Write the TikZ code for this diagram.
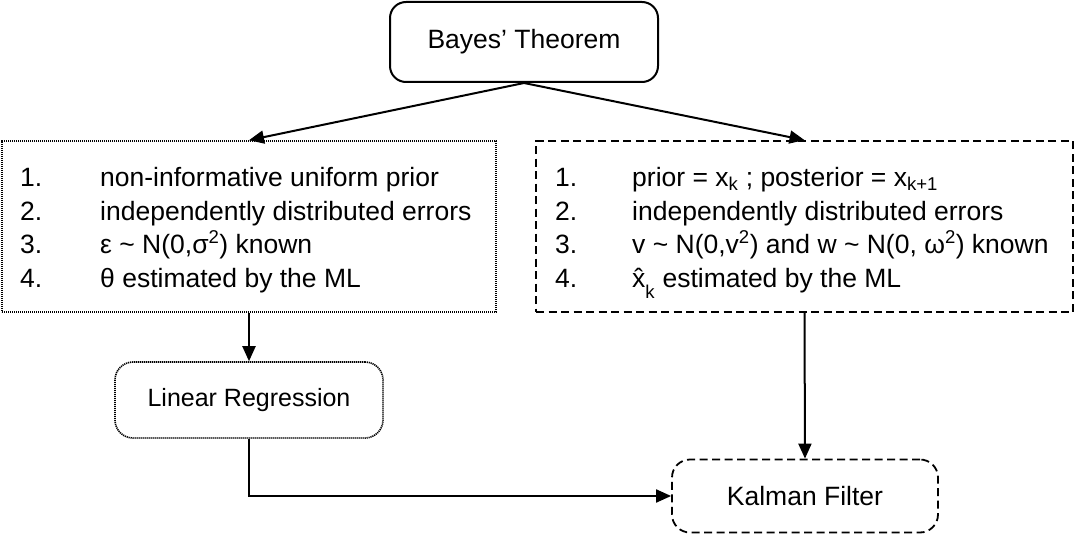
\documentclass[tikz,border=0pt]{standalone}
\usepackage{fontspec}
\setmainfont{Liberation Sans}
\usetikzlibrary{arrows.meta}
\begin{document}
\begin{tikzpicture}[x=1pt,y=-1pt,
  title/.style={font=\fontsize{26.5}{30}\selectfont, inner sep=0pt},
  item/.style={font=\fontsize{26.5}{30}\selectfont, anchor=base west, inner sep=0pt},
  conn/.style={line width=2pt, -{Triangle[length=15pt,width=13pt]}},
  dotbox/.style={draw, line width=1.6pt, dash pattern=on 1.2pt off 0.8pt},
  dashbox/.style={draw, line width=1.8pt, dash pattern=on 8pt off 4.5pt}
]
\useasboundingbox (0,0) rectangle (1077,535);
% Bayes
\node[draw, line width=2pt, rounded corners=16pt, minimum width=268pt, minimum height=80pt, title] (bayes) at (524,42) {Bayes' Theorem};
% left box
\node[dotbox, minimum width=494pt, minimum height=171pt, inner sep=0pt] (left) at (249,226.5) {};
\node[item] (l1n) at (20,186) {1.};
\node[item] (l1) at (100,186) {non-informative uniform prior};
\node[item] (l2n) at (20,220) {2.};
\node[item] (l2) at (100,220) {independently distributed errors};
\node[item] (l3n) at (20,253) {3.};
\node[item] (l3) at (100,253) {ε \char"7E{} N(0,σ\textsuperscript{2}) known};
\node[item] (l4n) at (20,287) {4.};
\node[item] (l4) at (100,287) {θ estimated by the ML};
% right box
\node[dashbox, minimum width=537pt, minimum height=171pt, inner sep=0pt] (right) at (804.5,226.5) {};
\node[item] (r1n) at (555,186) {1.};
\node[item] (r1) at (632,186) {prior = x\textsubscript{k} ; posterior = x\textsubscript{k+1}};
\node[item] (r2n) at (555,220) {2.};
\node[item] (r2) at (632,220) {independently distributed errors};
\node[item] (r3n) at (555,253) {3.};
\node[item] (r3) at (632,253) {v \char"7E{} N(0,v\textsuperscript{2}) and w \char"7E{} N(0, ω\textsuperscript{2}) known};
\node[item] (r4n) at (555,287) {4.};
\node[item] (r4) at (632,287) {x̂\raisebox{-0.45ex}{\textsubscript{k}} estimated by the ML};
% Linear Regression
\node[dotbox, rounded corners=18pt, minimum width=268pt, minimum height=76pt, font=\fontsize{25}{30}\selectfont] (lr) at (249,400) {Linear Regression};
% Kalman
\node[dashbox, rounded corners=18pt, minimum width=266pt, minimum height=73pt, font=\fontsize{26.5}{30}\selectfont] (kf) at (805,496) {Kalman Filter};
% connectors
\draw[conn] (bayes.south) -- (left.north);
\draw[conn] (bayes.south) -- (right.north);
\draw[conn] (left.south) -- (lr.north);
\draw[conn] (right.south) -- (kf.north);
\draw[conn] (lr.south) |- (kf.west);
\end{tikzpicture}
\end{document}
